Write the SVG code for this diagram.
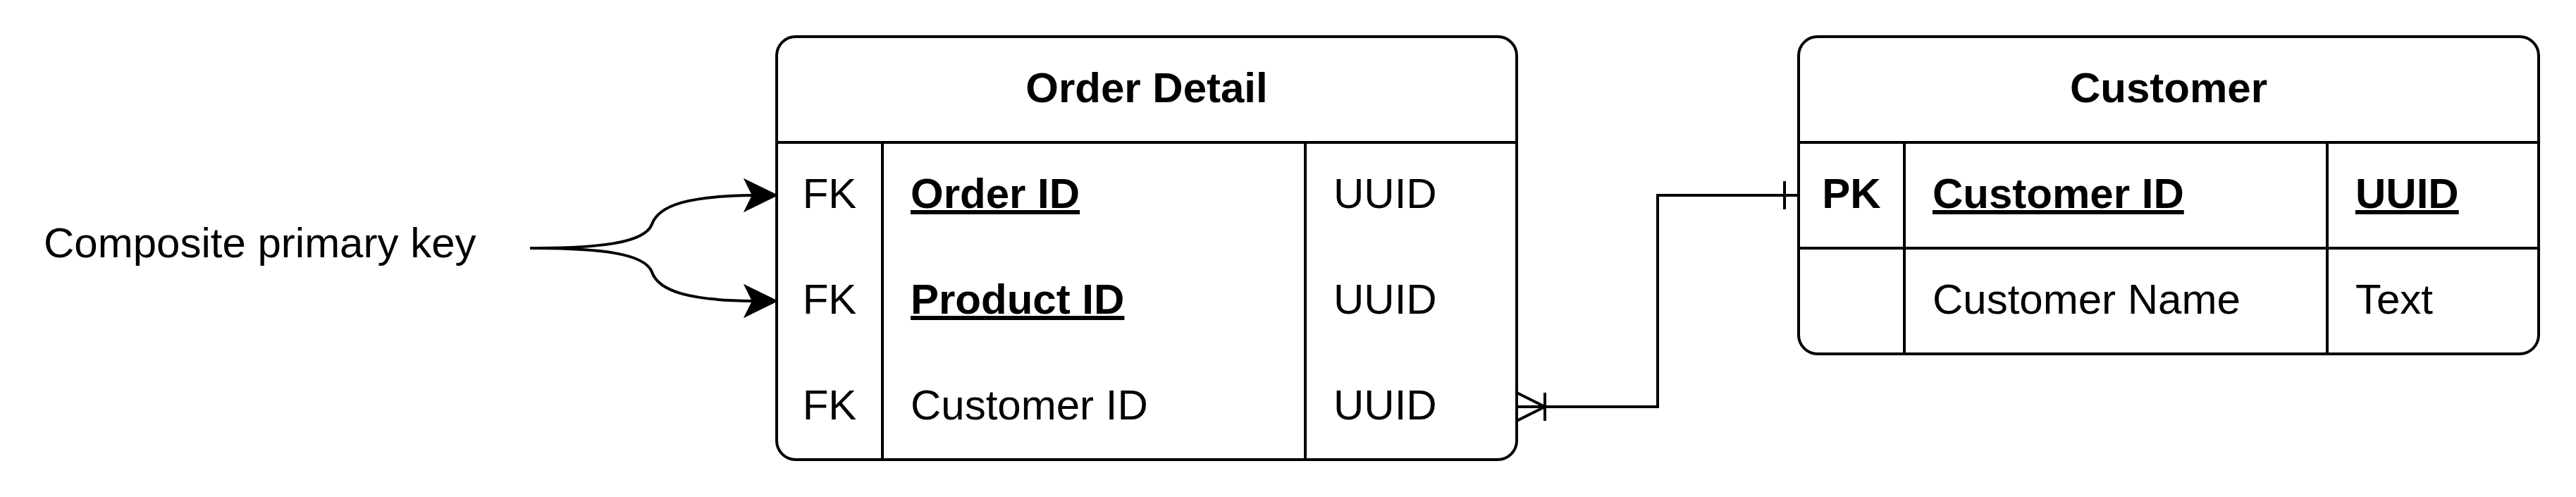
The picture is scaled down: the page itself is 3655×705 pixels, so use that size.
<svg xmlns="http://www.w3.org/2000/svg" width="3655" height="705" viewBox="0 0 3655 705">
<style>
.box{fill:#fff;stroke:#000;stroke-width:4}
.ln{fill:none;stroke:#000;stroke-width:4}
text{font-family:"Liberation Sans",Arial,sans-serif;font-size:60px;fill:#000}
.b{font-weight:bold}
.u{text-decoration:underline}
.c{text-anchor:middle}
</style>
<rect width="3655" height="705" fill="#fff"/>
<g id="order-detail">
<rect class="box" x="1102" y="52" width="1050" height="600" rx="27" ry="27"/>
<line class="ln" x1="1102" y1="202" x2="2152" y2="202"/>
<line class="ln" x1="1252" y1="202" x2="1252" y2="652"/>
<line class="ln" x1="1852" y1="202" x2="1852" y2="652"/>
<text class="b c" x="1627" y="145">Order Detail</text>
<text class="c" x="1177" y="295">FK</text>
<text class="b u" x="1292" y="295">Order ID</text>
<text x="1892" y="295">UUID</text>
<text class="c" x="1177" y="445">FK</text>
<text class="b u" x="1292" y="445">Product ID</text>
<text x="1892" y="445">UUID</text>
<text class="c" x="1177" y="595">FK</text>
<text x="1292" y="595">Customer ID</text>
<text x="1892" y="595">UUID</text>
</g>
<g id="customer">
<rect class="box" x="2552" y="52" width="1050" height="450" rx="27" ry="27"/>
<line class="ln" x1="2552" y1="202" x2="3602" y2="202"/>
<line class="ln" x1="2552" y1="352" x2="3602" y2="352"/>
<line class="ln" x1="2702" y1="202" x2="2702" y2="502"/>
<line class="ln" x1="3302" y1="202" x2="3302" y2="502"/>
<text class="b c" x="3077" y="145">Customer</text>
<text class="b c" x="2627" y="295">PK</text>
<text class="b u" x="2742" y="295">Customer ID</text>
<text class="b u" x="3342" y="295">UUID</text>
<text x="2742" y="445">Customer Name</text>
<text x="3342" y="445">Text</text>
</g>
<g id="composite-label">
<text x="62" y="365">Composite primary key</text>
</g>
<g id="connectors">
<path class="ln" d="M752,352 C850,352 915,345 925,318 C935,290 980,278 1068,277"/>
<polygon points="1102,277 1057,255 1068,277 1057,299" fill="#000" stroke="#000" stroke-width="2"/>
<path class="ln" d="M752,352 C850,352 915,359 925,386 C935,414 980,426 1068,427"/>
<polygon points="1102,427 1057,405 1068,427 1057,449" fill="#000" stroke="#000" stroke-width="2"/>
<path class="ln" d="M2152,577 L2352,577 L2352,277 L2552,277"/>
<path class="ln" d="M2152,557 L2192,577 L2152,597 M2192,557 L2192,597"/>
<path class="ln" d="M2532,257 L2532,297"/>
</g>
</svg>
